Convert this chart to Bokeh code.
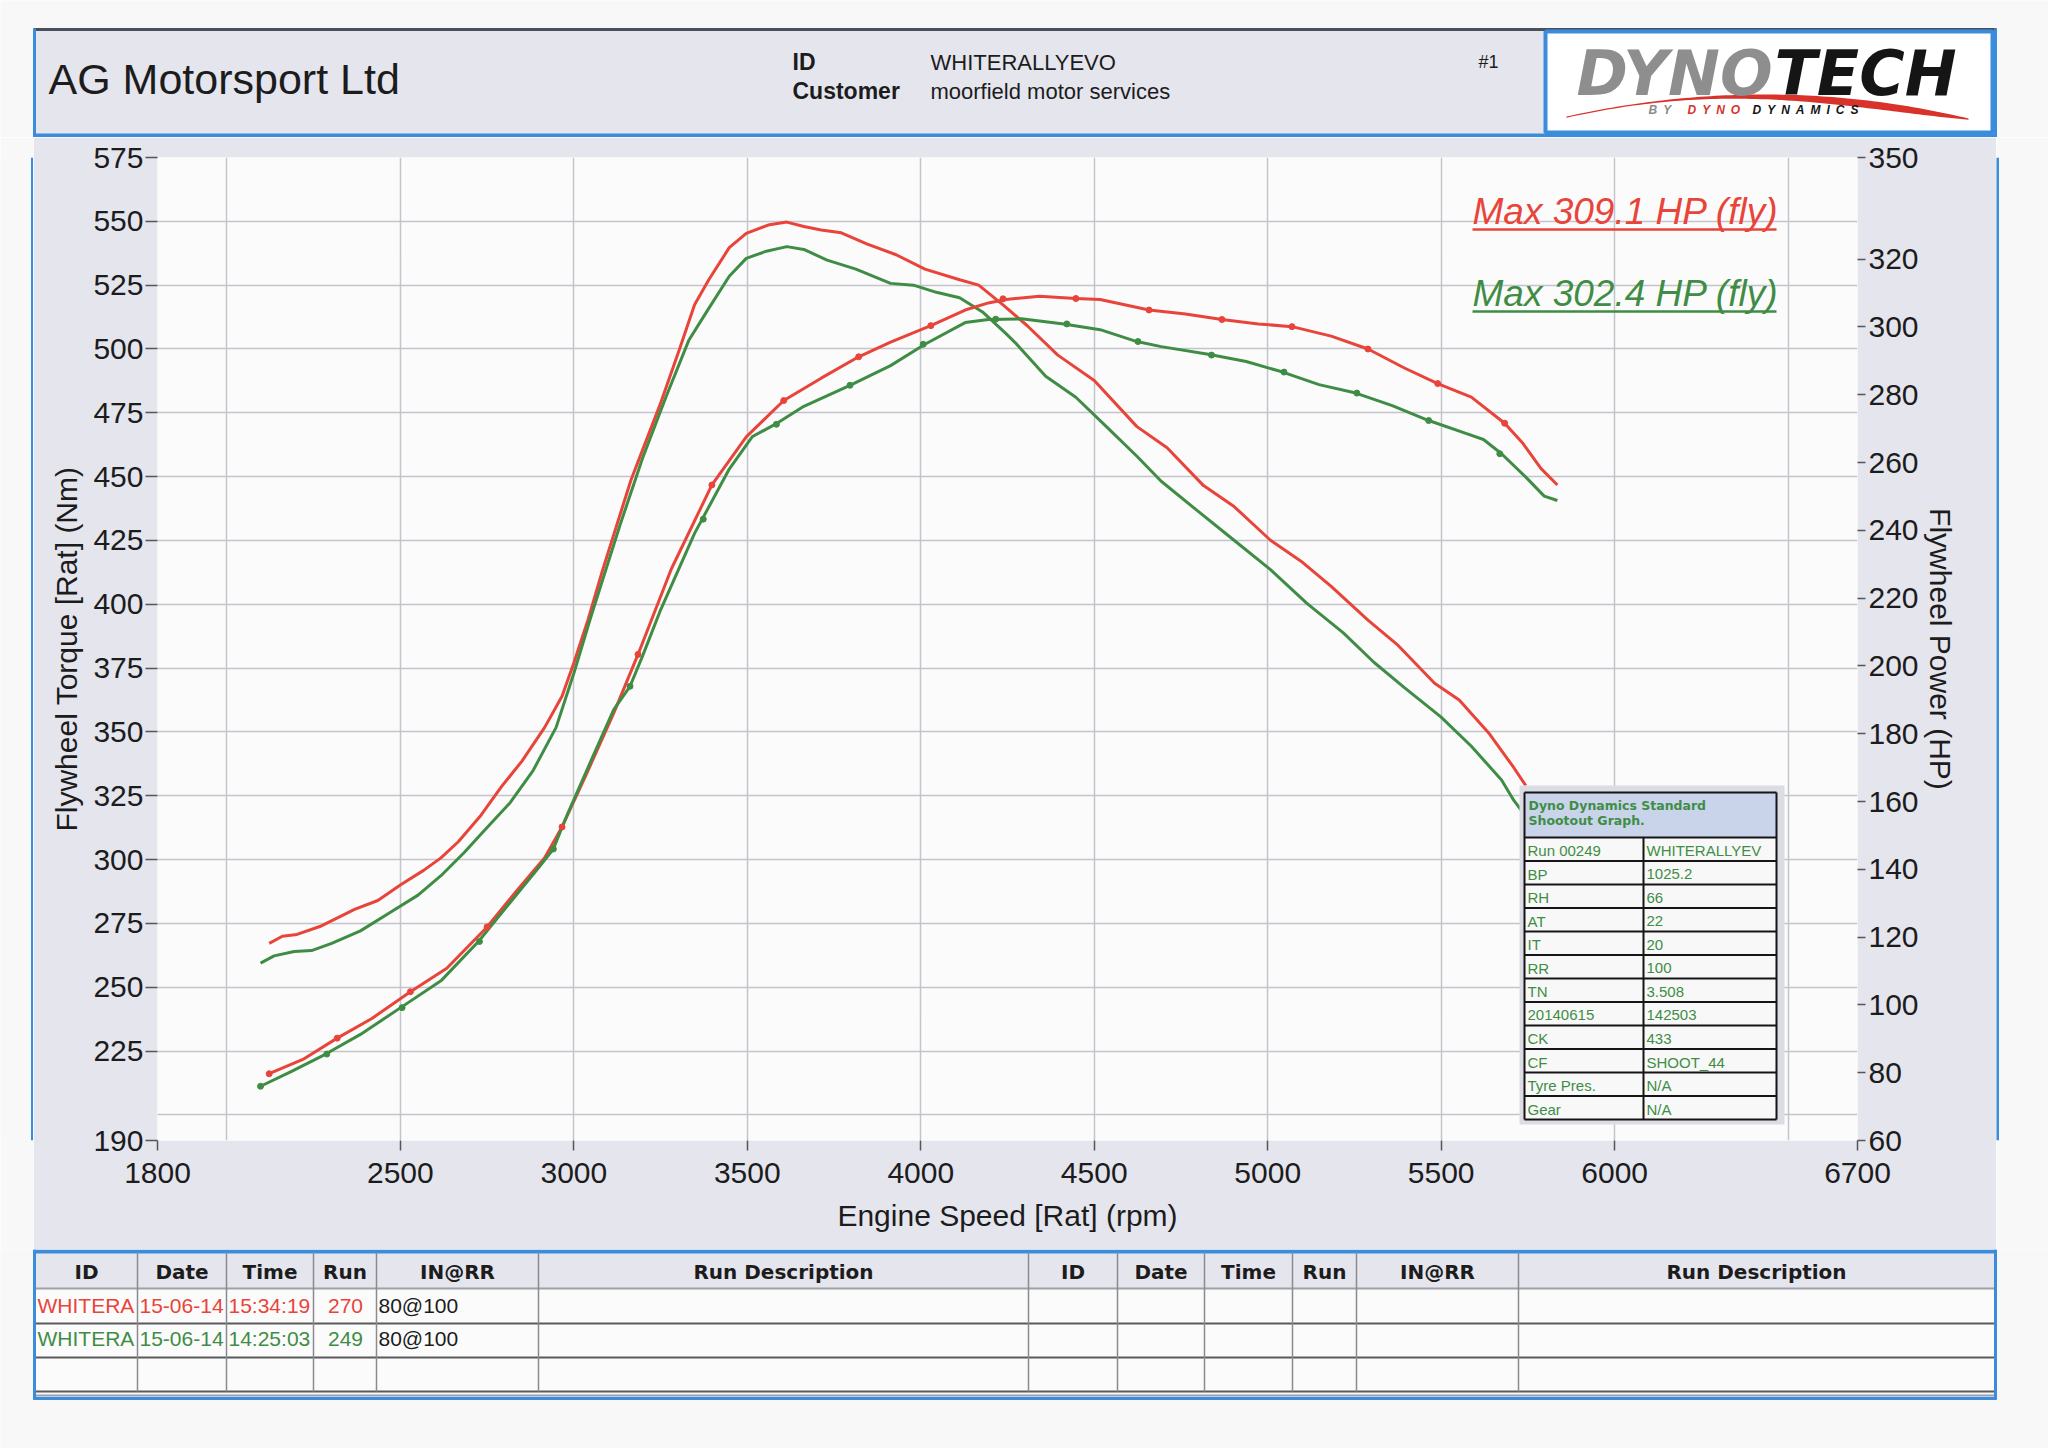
import numpy as np
from bokeh.plotting import figure
from bokeh.models import Range1d, LinearAxis, FixedTicker
from bokeh.layouts import column, row
from bokeh.embed import file_html
from bokeh.resources import INLINE
from bokeh.core.properties import value

# ---------------- data ----------------
company = "AG Motorsport Ltd"
vehicle_id = "WHITERALLYEVO"
customer = "moorfield motor services"

rpm_ticks = [1800, 2500, 3000, 3500, 4000, 4500, 5000, 5500, 6000, 6700]
rpm_grid = [2000, 2500, 3000, 3500, 4000, 4500, 5000, 5500, 6000, 6500]
torque_ticks = [190, 225, 250, 275, 300, 325, 350, 375, 400, 425, 450, 475, 500, 525, 550, 575]
torque_grid = [200, 225, 250, 275, 300, 325, 350, 375, 400, 425, 450, 475, 500, 525, 550, 575]
hp_ticks = [60, 80, 100, 120, 140, 160, 180, 200, 220, 240, 260, 280, 300, 320, 350]

# run 270 (red) torque, Nm
red_tq_rpm = [2122, 2160, 2202, 2268, 2368, 2435, 2501, 2567, 2617, 2667, 2733, 2792, 2850, 2916,
              2966, 3000, 3041, 3082, 3165, 3248, 3306, 3348, 3389, 3448, 3497, 3564, 3614, 3663,
              3713, 3771, 3846, 3929, 4012, 4112, 4167, 4237, 4307, 4395, 4500, 4623, 4710, 4815,
              4903, 5008, 5096, 5183, 5289, 5376, 5481, 5552, 5639, 5709, 5744]
red_tq = [267.2, 270.0, 270.7, 273.8, 280.5, 284.0, 290.2, 295.8, 300.7, 307.0, 317.5, 328.7, 338.5, 351.8,
          364.0, 377.0, 394.0, 413.0, 448.8, 478.0, 500.5, 517.3, 527.1, 539.7, 545.3, 548.7, 549.7, 548.0,
          546.6, 545.5, 541.1, 536.9, 531.3, 527.1, 525.0, 517.3, 509.1, 497.6, 487.7, 469.6, 461.3, 446.5,
          438.3, 425.1, 416.9, 407.0, 393.8, 383.9, 369.1, 362.5, 349.3, 336.1, 329.0]

# run 249 (green) torque, Nm
grn_tq_rpm = [2097, 2136, 2194, 2244, 2302, 2385, 2468, 2551, 2617, 2684, 2750, 2817, 2883, 2949,
              3000, 3049, 3132, 3198, 3265, 3331, 3389, 3448, 3497, 3555, 3614, 3663, 3730, 3813,
              3913, 3979, 4045, 4112, 4178, 4245, 4272, 4360, 4447, 4535, 4623, 4693, 4798, 4903,
              5008, 5113, 5218, 5306, 5394, 5499, 5587, 5674, 5709, 5744]
grn_tq = [259.5, 262.3, 264.0, 264.4, 267.2, 272.1, 279.1, 286.1, 293.7, 302.8, 312.6, 322.4, 335.0, 351.8,
          373.0, 395.0, 430.6, 457.2, 481.0, 503.3, 515.9, 528.5, 535.5, 538.3, 540.1, 539.0, 534.8, 531.3,
          525.7, 525.0, 522.2, 520.1, 514.5, 506.1, 502.5, 489.3, 481.1, 469.6, 458.0, 448.2, 436.6, 425.1,
          413.6, 400.4, 388.8, 377.3, 367.4, 355.9, 344.4, 331.2, 323.3, 317.0]

# run 270 (red) power, HP
red_hp_rpm = [2122, 2219, 2318, 2418, 2529, 2634, 2750, 2833, 2916, 2966, 3032, 3115, 3185, 3281,
              3398, 3497, 3605, 3713, 3821, 3913, 4029, 4128, 4195, 4245, 4342, 4447, 4517, 4658,
              4763, 4868, 4973, 5070, 5183, 5289, 5394, 5490, 5587, 5683, 5736, 5788, 5835]
red_hp = [79.7, 83.9, 90.2, 96.0, 103.9, 110.8, 123.0, 133.4, 143.4, 152.5, 167.1, 186.1, 203.4, 228.6,
          253.4, 267.6, 278.3, 284.9, 291.2, 295.5, 300.4, 305.0, 307.1, 308.1, 309.1, 308.4, 308.1, 305.0,
          303.8, 302.2, 300.9, 300.1, 297.3, 293.5, 287.9, 283.3, 279.3, 271.6, 265.6, 258.2, 253.4]

# run 249 (green) power, HP
grn_hp_rpm = [2097, 2185, 2285, 2385, 2501, 2617, 2725, 2817, 2900, 2941, 2983, 3049, 3115, 3162,
              3198, 3248, 3348, 3448, 3514, 3589, 3663, 3796, 3913, 4012, 4128, 4195, 4290, 4412,
              4517, 4623, 4693, 4833, 4938, 5043, 5148, 5254, 5359, 5464, 5569, 5622, 5674, 5744,
              5797, 5835]
grn_hp = [76.0, 80.3, 85.5, 91.3, 99.2, 107.1, 118.7, 130.3, 140.7, 146.0, 156.6, 171.9, 187.1, 194.0,
          202.9, 216.0, 239.1, 258.1, 267.6, 271.8, 276.6, 282.8, 288.6, 294.9, 301.3, 302.2, 302.4, 300.9,
          299.2, 295.7, 294.2, 291.9, 289.8, 286.7, 283.0, 280.5, 276.8, 272.4, 268.7, 266.8, 262.6, 255.7,
          250.1, 248.8]

# sample dots on the power curves
red_dot_rpm = [2122, 2318, 2529, 2750, 2966, 3185, 3398, 3605, 3821, 4029, 4237, 4447, 4658, 4868,
               5070, 5289, 5490, 5683]
red_dot_hp = [79.7, 90.2, 103.9, 123.0, 152.5, 203.4, 253.4, 278.3, 291.2, 300.4, 308.3, 308.4, 305.0,
              302.2, 300.1, 293.5, 283.3, 271.6]
grn_dot_rpm = [2097, 2288, 2505, 2728, 2941, 3162, 3373, 3584, 3796, 4007, 4216, 4421, 4626, 4838,
               5047, 5257, 5464, 5669]
grn_dot_hp = [76.0, 85.5, 99.2, 118.7, 146.0, 194.0, 243.3, 271.3, 282.8, 294.9, 302.3, 300.9, 295.7,
              291.7, 286.7, 280.5, 272.4, 262.6]

max_labels = ["Max 309.1 HP (fly)", "Max 302.4 HP (fly)"]

info_title = ["Dyno Dynamics Standard", "Shootout Graph."]
info_keys = ["Run 00249", "BP", "RH", "AT", "IT", "RR", "TN", "20140615", "CK", "CF", "Tyre Pres.", "Gear"]
info_vals = ["WHITERALLYEV", "1025.2", "66", "22", "20", "100", "3.508", "142503", "433", "SHOOT_44",
             "N/A", "N/A"]

table_headers = ["ID", "Date", "Time", "Run", "IN@RR", "Run Description",
                 "ID", "Date", "Time", "Run", "IN@RR", "Run Description"]
run_red = ["WHITERA", "15-06-14", "15:34:19", "270", "80@100"]
run_grn = ["WHITERA", "15-06-14", "14:25:03", "249", "80@100"]

# ---------------- styling ----------------
PAGE_BG = "#f8f8f8"
LAV = "#e5e5ee"
BLUE = "#3b8ddb"
RED = "#e8443a"
GREEN = "#3f8d45"
INK = "#1c1c1c"
SANS = "Liberation Sans"
BASE_K = 0.33   # baseline correction (fraction of font size)


def page_fig(x0, x1, y0, y1, bg=PAGE_BG):
    f = figure(width=x1 - x0, height=y1 - y0,
               x_range=Range1d(x0, x1), y_range=Range1d(y1, y0),
               x_axis_location=None, y_axis_location=None,
               output_backend="svg", toolbar_location=None, min_border=0)
    f.xgrid.visible = False
    f.ygrid.visible = False
    f.outline_line_color = None
    f.background_fill_color = bg
    f.border_fill_color = bg
    return f


def txt(f, xs, ys, texts, size, font=SANS, style="normal", color=INK, align="left", ymap=None):
    ys2 = [y - BASE_K * size for y in ys]
    if ymap is not None:
        ys2 = [ymap(y) for y in ys2]
    f.text(x=xs, y=ys2, text=texts, text_font=value(font), text_font_size=f"{size}px",
           text_font_style=style, text_color=color, text_align=align, text_baseline="alphabetic")


# ---------------- header ----------------
hdr = page_fig(0, 2048, 0, 137)
hdr.quad(left=[33], right=[1996], top=[28], bottom=[137], fill_color=LAV, line_color=None)
hdr.segment(x0=[33], y0=[29], x1=[1996], y1=[29], line_color="#4b4f5c", line_width=3)
hdr.segment(x0=[34, 1995], y0=[28, 28], x1=[34, 1995], y1=[137, 137], line_color=BLUE, line_width=3)
hdr.segment(x0=[33], y0=[135], x1=[1996], y1=[135], line_color=BLUE, line_width=4)
txt(hdr, [48], [93], [company], 43)
txt(hdr, [792, 792], [69, 98], ["ID", "Customer"], 23, style="bold")
txt(hdr, [930, 930], [69, 98], [vehicle_id, customer], 22)
txt(hdr, [1478], [67], ["#1"], 18)
# logo
hdr.quad(left=[1545], right=[1992], top=[31], bottom=[132], fill_color="white",
         line_color=BLUE, line_width=4)
tt = np.linspace(0, 1, 80)
sw_x = (1 - tt) ** 2 * 1566 + 2 * (1 - tt) * tt * 1770 + tt ** 2 * 1968
sw_y = (1 - tt) ** 2 * 116 + 2 * (1 - tt) * tt * 71 + tt ** 2 * 118
sw_th = 1.2 + 60 * tt ** 3 * (1 - tt)
hdr.patch(np.concatenate([sw_x, sw_x[::-1]]), np.concatenate([sw_y, (sw_y + sw_th)[::-1]]),
          fill_color="#d8322a", line_color=None)
txt(hdr, [1576], [93], ["DYNO"], 62, font="DejaVu Sans", style="bold italic", color="#8e8e8e")
txt(hdr, [1774], [93], ["TECH"], 62, font="DejaVu Sans", style="bold italic", color="#151515")
sp = "\u2002"
txt(hdr, [1648, 1687, 1752], [113, 113, 113], [sp.join("BY"), sp.join("DYNO"), sp.join("DYNAMICS")], 12,
    style="bold italic", color=["#8c8c8c", "#d8322a", "#151515"])

# ---------------- main chart ----------------
FX0, FX1, FY0, FY1 = 157, 1857, 157, 1140
p = figure(width=1963, height=1112, x_range=Range1d(1800, 6700), y_range=Range1d(190, 575),
           output_backend="svg", toolbar_location=None,
           min_border_left=FX0 - 33, min_border_right=1996 - FX1,
           min_border_top=FY0 - 137, min_border_bottom=1249 - FY1)
p.background_fill_color = "#fbfbfb"
p.border_fill_color = LAV
p.outline_line_color = None
p.extra_y_ranges = {"hp": Range1d(60, 350)}
rax = LinearAxis(y_range_name="hp")
p.add_layout(rax, "right")

lax = p.left[0]
bax = p.below[0]
for a in (lax, bax, rax):
    a.axis_line_color = None
    a.major_tick_line_color = "#555555"
    a.major_tick_line_width = 1.5
    a.major_tick_in = 0
    a.minor_tick_line_color = None
    a.major_label_text_font = SANS
    a.major_label_text_font_size = "30px"
    a.major_label_text_color = INK
    a.axis_label_text_font = SANS
    a.axis_label_text_font_size = "30px"
    a.axis_label_text_font_style = "normal"
    a.axis_label_text_color = INK

lax.ticker = FixedTicker(ticks=torque_ticks)
lax.axis_label = "Flywheel Torque [Rat] (Nm)"
lax.major_tick_out = 12
lax.major_label_standoff = 2
lax.axis_label_standoff = 7

bax.ticker = FixedTicker(ticks=rpm_ticks)
bax.axis_label = "Engine Speed [Rat] (rpm)"
bax.major_tick_out = 10
bax.major_label_standoff = 12
bax.axis_label_standoff = 13

rax.ticker = FixedTicker(ticks=hp_ticks)
rax.axis_label = "Flywheel Power (HP)"
rax.major_tick_out = 8
rax.major_label_standoff = 3
rax.axis_label_standoff = 2

p.xgrid.ticker = FixedTicker(ticks=rpm_grid)
p.ygrid.ticker = FixedTicker(ticks=torque_grid)
p.grid.grid_line_color = "#c4c4cc"
p.grid.grid_line_width = 1.5

p.line(red_tq_rpm, red_tq, line_color=RED, line_width=3)
p.line(grn_tq_rpm, grn_tq, line_color=GREEN, line_width=3)
p.line(red_hp_rpm, red_hp, line_color=RED, line_width=3, y_range_name="hp")
p.line(grn_hp_rpm, grn_hp, line_color=GREEN, line_width=3, y_range_name="hp")
p.scatter(red_dot_rpm, red_dot_hp, size=6, color=RED, y_range_name="hp")
p.scatter(grn_dot_rpm, grn_dot_hp, size=6, color=GREEN, y_range_name="hp")


def rx(px):
    return 1800 + (px - FX0) * (6700 - 1800) / (FX1 - FX0)


def ty(py):
    return 575 - (py - FY0) * (575 - 190) / (FY1 - FY0)


# info box
p.quad(left=[rx(1519)], right=[rx(1784)], top=[ty(785)], bottom=[ty(1124)],
       fill_color="#dcdce5", line_color=None)
p.quad(left=[rx(1524)], right=[rx(1776)], top=[ty(792)], bottom=[ty(837)],
       fill_color="#c9d4eb", line_color=None)
p.quad(left=[rx(1524)], right=[rx(1776)], top=[ty(837)], bottom=[ty(1119)],
       fill_color="#f8f8f8", line_color=None)
row_h = (1119 - 837) / len(info_keys)
hy = [792] + [837 + i * row_h for i in range(len(info_keys) + 1)]
p.segment(x0=[rx(1524)] * len(hy), x1=[rx(1776)] * len(hy), y0=[ty(v) for v in hy],
          y1=[ty(v) for v in hy], line_color="#151515", line_width=2)
p.segment(x0=[rx(1524), rx(1776), rx(1643)], x1=[rx(1524), rx(1776), rx(1643)],
          y0=[ty(792), ty(792), ty(837)], y1=[ty(1119)] * 3, line_color="#151515", line_width=2)
txt(p, [rx(1528)] * 2, [809, 824], info_title, 12.5, font="DejaVu Sans", style="bold",
    color=GREEN, ymap=ty)
row_base = [837 + i * row_h + 18 for i in range(len(info_keys))]
txt(p, [rx(1527)] * len(info_keys), row_base, info_keys, 15, color=GREEN, ymap=ty)
txt(p, [rx(1646)] * len(info_vals), row_base, info_vals, 15, color=GREEN, ymap=ty)

# max labels
txt(p, [rx(1472)] * 2, [223, 305], max_labels, 37, style="italic", color=[RED, GREEN], ymap=ty)
p.segment(x0=[rx(1472)] * 2, x1=[rx(1776)] * 2, y0=[ty(229), ty(311)], y1=[ty(229), ty(311)],
          line_color=[RED, GREEN], line_width=2.5)

# side strips carrying the blue frame borders
lf = page_fig(0, 33, 137, 1249)
lf.segment(x0=[32], y0=[137], x1=[32], y1=[1249], line_color=BLUE, line_width=3)
rf = page_fig(1996, 2048, 137, 1249)
rf.segment(x0=[1997], y0=[137], x1=[1997], y1=[1249], line_color=BLUE, line_width=3)

# ---------------- run table ----------------
tbl = page_fig(0, 2048, 1249, 1448)
tbl.quad(left=[33], right=[1996], top=[1252], bottom=[1288], fill_color=LAV, line_color=None)
tbl.quad(left=[33], right=[1996], top=[1288], bottom=[1392], fill_color="#fbfbfb", line_color=None)
tbl.segment(x0=[33], y0=[1251], x1=[1996], y1=[1251], line_color=BLUE, line_width=4)
tbl.segment(x0=[33] * 4, x1=[1996] * 4, y0=[1288, 1323, 1357, 1391], y1=[1288, 1323, 1357, 1391],
            line_color=["#a0a0a8", "#5a5a5a", "#5a5a5a", "#5a5a5a"], line_width=2)
tbl.segment(x0=[33], y0=[1395], x1=[1996], y1=[1395], line_color="#9aa0b0", line_width=2)
tbl.segment(x0=[33], y0=[1398], x1=[1996], y1=[1398], line_color=BLUE, line_width=3)
tbl.segment(x0=[34, 1995], y0=[1249, 1249], x1=[34, 1995], y1=[1399, 1399], line_color=BLUE, line_width=3)
col_edges = [35, 137, 226, 313, 376, 538, 1028, 1117, 1204, 1292, 1356, 1518, 1994]
inner = col_edges[1:-1]
tbl.segment(x0=inner, x1=inner, y0=[1252] * len(inner), y1=[1391] * len(inner),
            line_color="#8a8a90", line_width=1.5)
centers = [(col_edges[i] + col_edges[i + 1]) / 2 for i in range(len(table_headers))]
txt(tbl, centers, [1278] * len(centers), table_headers, 20, font="DejaVu Sans", style="bold",
    align="center")
for vals, col, yb in ((run_red, RED, 1312), (run_grn, GREEN, 1345)):
    txt(tbl, [37, 139, 228, 378], [yb] * 4, [vals[0], vals[1], vals[2], vals[4]], 21,
        color=[col, col, col, INK])
    txt(tbl, [345], [yb], [vals[3]], 21, color=col, align="center")

layout = column(hdr, row(lf, p, rf), tbl)
open("out.html", "w").write(file_html(layout, INLINE, title="Dyno chart"))
